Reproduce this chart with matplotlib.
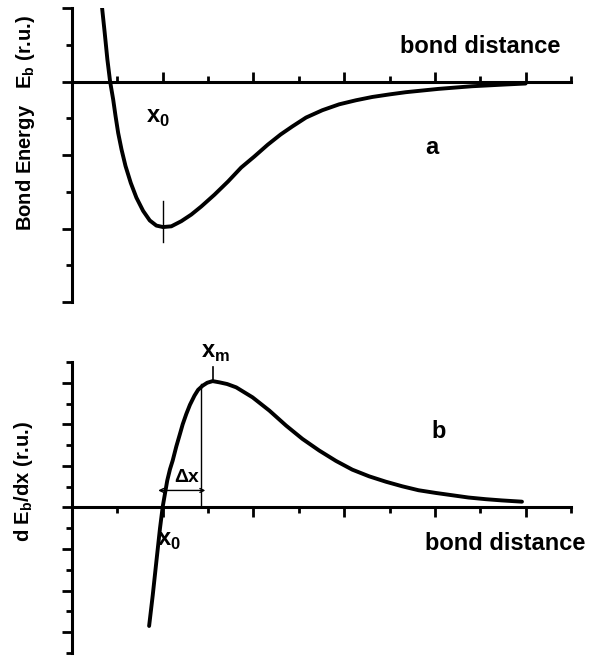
import matplotlib
matplotlib.use('Agg')
import matplotlib.pyplot as plt
from matplotlib.ticker import MultipleLocator

plt.rcParams['font.family'] = ['Liberation Sans', 'DejaVu Sans']
plt.rcParams['font.weight'] = 'bold'
plt.rcParams['axes.labelweight'] = 'bold'
plt.rcParams['mathtext.fontset'] = 'custom'
plt.rcParams['mathtext.rm'] = 'Liberation Sans:bold'
plt.rcParams['mathtext.bf'] = 'Liberation Sans:bold'

# panel a: bond energy vs bond distance (relative units)
xa = [0.33, 0.36, 0.39, 0.42, 0.454, 0.48, 0.509, 0.546, 0.59, 0.648, 0.71, 0.784,
      0.857, 0.93, 1.003, 1.095, 1.205, 1.315, 1.425, 1.57, 1.72, 1.865, 2.01,
      2.157, 2.30, 2.43, 2.58, 2.76, 2.945, 3.13, 3.31, 3.50, 3.68, 4.04, 4.41,
      4.78, 5.00]
ya = [1.02, 0.67, 0.30, 0.00, -0.245, -0.47, -0.70, -0.925, -1.15, -1.38, -1.58,
      -1.76, -1.89, -1.96, -1.98, -1.97, -1.90, -1.81, -1.70, -1.54, -1.36, -1.17,
      -1.02, -0.86, -0.72, -0.61, -0.49, -0.39, -0.31, -0.255, -0.21, -0.175,
      -0.145, -0.10, -0.064, -0.04, -0.027]

# panel b: derivative dE/dx
xb = [0.85, 0.89, 0.93, 0.97, 1.00, 1.05, 1.08, 1.11, 1.15, 1.19, 1.22, 1.26, 1.30,
      1.35, 1.39, 1.44, 1.49, 1.55, 1.626, 1.71, 1.81, 1.99, 2.176, 2.36, 2.54,
      2.725, 2.91, 3.09, 3.275, 3.46, 3.64, 3.82, 4.01, 4.19, 4.37, 4.56, 4.74, 4.96]
yb = [-2.85, -2.11, -1.30, -0.50, 0.02, 0.65, 0.92, 1.13, 1.47, 1.77, 2.00, 2.25,
      2.47, 2.69, 2.83, 2.93, 3.00, 3.04, 3.01, 2.97, 2.89, 2.65, 2.33, 1.97, 1.65,
      1.37, 1.12, 0.91, 0.75, 0.62, 0.51, 0.415, 0.35, 0.295, 0.24, 0.20, 0.17, 0.14]

x0 = 1.00
xm = 1.55
x_dx = 1.42

fig = plt.figure(figsize=(5.96, 6.59), dpi=100)
ax_a = fig.add_axes([0.1208, 0.5417, 0.8372, 0.4461])
ax_b = fig.add_axes([0.1208, 0.0091, 0.8372, 0.4416])


def style(ax, ylo, yhi, xdir):
    ax.set_xlim(0, 5.5)
    ax.set_ylim(ylo, yhi)
    for s in ['top', 'right']:
        ax.spines[s].set_visible(False)
    ax.spines['bottom'].set_position(('data', 0))
    ax.spines['bottom'].set_linewidth(2.2)
    ax.spines['left'].set_linewidth(2.2)
    ax.xaxis.set_major_locator(MultipleLocator(1))
    ax.xaxis.set_minor_locator(MultipleLocator(0.5))
    ax.yaxis.set_major_locator(MultipleLocator(1))
    ax.yaxis.set_minor_locator(MultipleLocator(0.5))
    ax.tick_params(axis='x', which='both', direction=xdir, width=2, labelbottom=False)
    ax.tick_params(axis='y', which='both', direction='out', width=2, labelleft=False)
    ax.tick_params(which='major', length=7)
    ax.tick_params(which='minor', length=4)


style(ax_a, -3, 1, 'in')
style(ax_b, -3.5, 3.5, 'out')

ax_a.plot(xa, ya, color='black', lw=2.8, solid_capstyle='round', solid_joinstyle='round')
ax_a.plot([x0, x0], [-1.63, -2.18], color='black', lw=1)
ax_a.text(0.945, -0.49, r'x$_{\mathbf{0}}$', fontsize=17, ha='center', va='center')
ax_a.text(3.97, -0.9, 'a', fontsize=17, ha='center', va='center')
ax_a.text(5.38, 0.48, 'bond distance', fontsize=17, ha='right', va='center')
ax_a.set_ylabel(r'Bond Energy   E$_{\mathbf{b}}$ (r.u.)', fontsize=14.5, fontweight='bold')
ax_a.yaxis.set_label_coords(-0.07, 0.61)

ax_b.plot(xb, yb, color='black', lw=2.8, solid_capstyle='round', solid_joinstyle='round')
ax_b.plot([x_dx, x_dx], [0, 2.97], color='black', lw=1)
ax_b.plot([xm, xm], [3.05, 3.38], color='black', lw=1.2)
ax_b.annotate('', xy=(0.95, 0.41), xytext=(1.47, 0.41),
              arrowprops=dict(arrowstyle='<->', lw=1, mutation_scale=7, color='black',
                              shrinkA=0, shrinkB=0))
ax_b.text(1.26, 0.72, 'Δx', fontsize=14, ha='center', va='center')
ax_b.text(1.58, 3.72, r'x$_{\mathbf{m}}$', fontsize=17, ha='center', va='center')
ax_b.text(1.07, -0.8, r'x$_{\mathbf{0}}$', fontsize=17, ha='center', va='center')
ax_b.text(4.04, 1.82, 'b', fontsize=17, ha='center', va='center')
ax_b.text(5.66, -0.86, 'bond distance', fontsize=17, ha='right', va='center',
          clip_on=False)
ax_b.set_ylabel(r'd E$_{\mathbf{b}}$/dx (r.u.)', fontsize=14.5, fontweight='bold')
ax_b.yaxis.set_label_coords(-0.075, 0.59)

fig.savefig('out.png', dpi=100)
